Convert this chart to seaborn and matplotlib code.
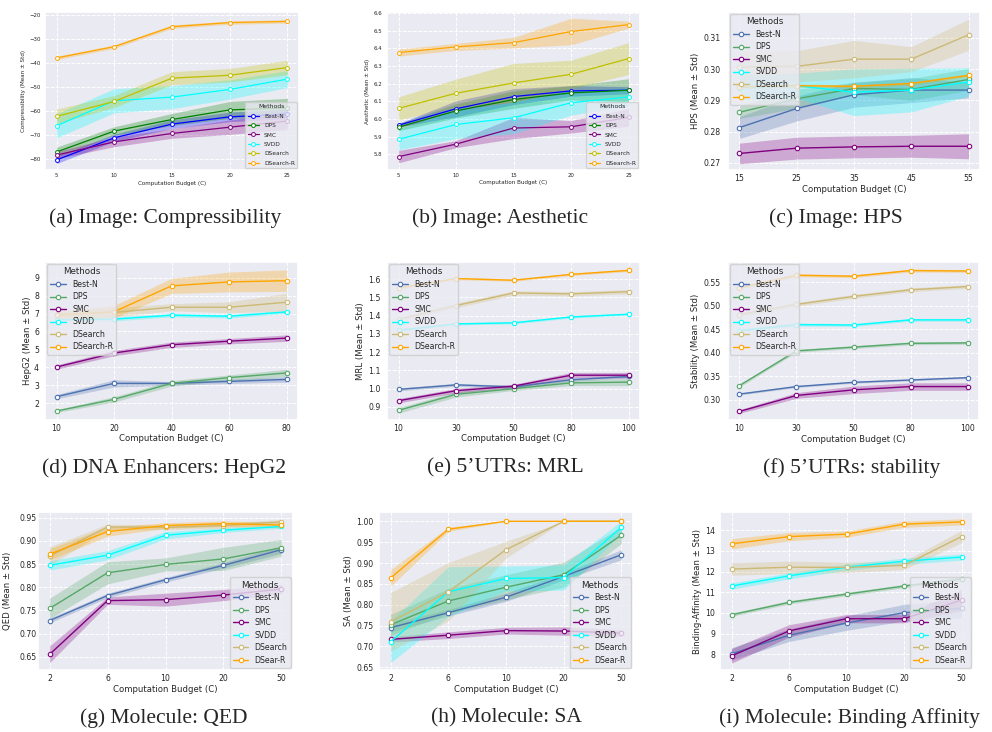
import numpy as np
import pandas as pd
import matplotlib
matplotlib.use("Agg")
import matplotlib.pyplot as plt
import seaborn as sns

# ---------------- data ----------------
METHODS = ["Best-N", "DPS", "SMC", "SVDD", "DSearch", "DSearch-R"]

# (a) Image: Compressibility
A_X = [5, 10, 15, 20, 25]
A_MEAN = {"Best-N": [-80.4, -71.2, -65.5, -62.5, -61.3],
          "DPS": [-77.1, -68.4, -63.6, -59.6, -58.8],
          "SMC": [-78.4, -72.9, -69.4, -66.8, -64.2],
          "SVDD": [-66.2, -55.8, -54.3, -51.1, -46.8],
          "DSearch": [-62.3, -56.1, -46.4, -45.2, -42.0],
          "DSearch-R": [-38.0, -33.3, -25.0, -23.3, -22.8]}
A_STD = {"Best-N": [1.5, 1.5, 1.8, 2.0, 2.0],
         "DPS": [2.0, 1.8, 2.5, 3.5, 4.0],
         "SMC": [1.5, 2.0, 2.0, 3.0, 3.5],
         "SVDD": [5.0, 5.0, 4.8, 4.0, 3.5],
         "DSearch": [3.0, 2.5, 2.7, 2.8, 3.0],
         "DSearch-R": [0.7, 0.7, 0.7, 0.7, 0.7]}

# (b) Image: Aesthetic
B_X = [5, 10, 15, 20, 25]
B_MEAN = {"Best-N": [5.965, 6.058, 6.127, 6.159, 6.163],
          "DPS": [5.954, 6.046, 6.110, 6.148, 6.163],
          "SMC": [5.787, 5.858, 5.949, 5.956, 6.009],
          "SVDD": [5.885, 5.969, 6.007, 6.092, 6.125],
          "DSearch": [6.060, 6.146, 6.204, 6.253, 6.342],
          "DSearch-R": [6.376, 6.408, 6.432, 6.495, 6.534]}
B_STD = {"Best-N": [0.01, 0.045, 0.045, 0.03, 0.02],
         "DPS": [0.02, 0.04, 0.05, 0.04, 0.065],
         "SMC": [0.035, 0.02, 0.06, 0.035, 0.05],
         "SVDD": [0.06, 0.08, 0.09, 0.07, 0.05],
         "DSearch": [0.065, 0.08, 0.11, 0.08, 0.09],
         "DSearch-R": [0.02, 0.02, 0.03, 0.075, 0.02]}

# (c) Image: HPS
C_X = [15, 25, 35, 45, 55]
C_MEAN = {"Best-N": [0.2813, 0.2874, 0.2918, 0.2933, 0.2933],
          "DPS": [0.2862, 0.2905, 0.2938, 0.2935, 0.2967],
          "SMC": [0.2730, 0.2747, 0.2751, 0.2753, 0.2753],
          "SVDD": [0.2941, 0.2947, 0.2926, 0.2933, 0.2959],
          "DSearch": [0.3007, 0.3009, 0.3032, 0.3032, 0.3110],
          "DSearch-R": [0.2943, 0.2947, 0.2945, 0.2954, 0.2980]}
C_STD = {"Best-N": [0.0035, 0.004, 0.004, 0.004, 0.0025],
         "DPS": [0.002, 0.003, 0.002, 0.0035, 0.0035],
         "SMC": [0.0033, 0.0035, 0.0035, 0.0035, 0.004],
         "SVDD": [0.004, 0.004, 0.0075, 0.007, 0.0045],
         "DSearch": [0.005, 0.005, 0.006, 0.004, 0.005],
         "DSearch-R": [0.0005, 0.0005, 0.0005, 0.0005, 0.0005]}

# (d) DNA Enhancers: HepG2
D_X = [10, 20, 40, 60, 80]
D_MEAN = {"Best-N": [2.37, 3.11, 3.11, 3.22, 3.33],
          "DPS": [1.57, 2.22, 3.11, 3.43, 3.69],
          "SMC": [4.02, 4.80, 5.26, 5.46, 5.63],
          "SVDD": [6.65, 6.69, 6.91, 6.85, 7.09],
          "DSearch": [6.95, 7.06, 7.35, 7.35, 7.63],
          "DSearch-R": [6.90, 7.10, 8.54, 8.76, 8.83]}
D_STD = {"Best-N": [0.12, 0.2, 0.1, 0.12, 0.15],
         "DPS": [0.08, 0.15, 0.15, 0.15, 0.2],
         "SMC": [0.12, 0.15, 0.15, 0.15, 0.18],
         "SVDD": [0.08, 0.1, 0.1, 0.1, 0.08],
         "DSearch": [0.2, 0.25, 0.2, 0.3, 0.5],
         "DSearch-R": [0.2, 0.35, 0.42, 0.55, 0.6]}

# (e) 5'UTRs: MRL
E_X = [10, 30, 50, 80, 100]
E_MEAN = {"Best-N": [0.995, 1.020, 1.009, 1.048, 1.066],
          "DPS": [0.880, 0.968, 0.999, 1.031, 1.035],
          "SMC": [0.933, 0.988, 1.013, 1.073, 1.073],
          "SVDD": [1.320, 1.355, 1.361, 1.393, 1.408],
          "DSearch": [1.380, 1.456, 1.525, 1.520, 1.532],
          "DSearch-R": [1.553, 1.604, 1.595, 1.627, 1.649]}
E_STD = {"Best-N": [0.008, 0.008, 0.008, 0.008, 0.008],
         "DPS": [0.015, 0.015, 0.01, 0.015, 0.02],
         "SMC": [0.012, 0.012, 0.01, 0.015, 0.015],
         "SVDD": [0.006, 0.006, 0.006, 0.006, 0.006],
         "DSearch": [0.008, 0.012, 0.012, 0.012, 0.012],
         "DSearch-R": [0.006, 0.006, 0.006, 0.006, 0.006]}

# (f) 5'UTRs: stability
F_X = [10, 30, 50, 80, 100]
F_MEAN = {"Best-N": [0.312, 0.328, 0.337, 0.342, 0.347],
          "DPS": [0.330, 0.404, 0.412, 0.420, 0.421],
          "SMC": [0.275, 0.309, 0.321, 0.328, 0.328],
          "SVDD": [0.447, 0.460, 0.459, 0.470, 0.470],
          "DSearch": [0.481, 0.503, 0.520, 0.534, 0.541],
          "DSearch-R": [0.538, 0.565, 0.563, 0.575, 0.574]}
F_STD = {"Best-N": [0.002, 0.002, 0.002, 0.002, 0.002],
         "DPS": [0.003, 0.003, 0.003, 0.003, 0.003],
         "SMC": [0.004, 0.006, 0.008, 0.008, 0.008],
         "SVDD": [0.003, 0.003, 0.003, 0.003, 0.003],
         "DSearch": [0.004, 0.004, 0.004, 0.004, 0.004],
         "DSearch-R": [0.003, 0.003, 0.003, 0.003, 0.003]}

# (g) Molecule: QED
G_X = [2, 6, 10, 20, 50]
G_MEAN = {"Best-N": [0.728, 0.782, 0.816, 0.847, 0.881],
          "DPS": [0.754, 0.831, 0.849, 0.861, 0.885],
          "SMC": [0.655, 0.771, 0.773, 0.783, 0.796],
          "SVDD": [0.847, 0.869, 0.912, 0.923, 0.931],
          "DSearch": [0.867, 0.930, 0.929, 0.933, 0.941],
          "DSearch-R": [0.871, 0.920, 0.933, 0.937, 0.934]}
G_STD = {"Best-N": [0.005, 0.005, 0.005, 0.006, 0.008],
         "DPS": [0.022, 0.024, 0.014, 0.025, 0.018],
         "SMC": [0.018, 0.008, 0.014, 0.012, 0.01],
         "SVDD": [0.01, 0.01, 0.008, 0.005, 0.004],
         "DSearch": [0.02, 0.006, 0.005, 0.006, 0.005],
         "DSearch-R": [0.012, 0.01, 0.006, 0.006, 0.006]}

# (h) Molecule: SA
H_X = [2, 6, 10, 20, 50]
H_MEAN = {"Best-N": [0.745, 0.781, 0.818, 0.868, 0.920],
          "DPS": [0.752, 0.809, 0.842, 0.872, 0.967],
          "SMC": [0.717, 0.727, 0.738, 0.737, 0.732],
          "SVDD": [0.711, 0.831, 0.863, 0.865, 0.986],
          "DSearch": [0.759, 0.831, 0.932, 1.0, 1.0],
          "DSearch-R": [0.864, 0.981, 1.0, 1.0, 1.0]}
H_STD = {"Best-N": [0.01, 0.008, 0.01, 0.008, 0.012],
         "DPS": [0.025, 0.03, 0.03, 0.03, 0.02],
         "SMC": [0.006, 0.008, 0.008, 0.01, 0.008],
         "SVDD": [0.05, 0.06, 0.03, 0.03, 0.015],
         "DSearch": [0.07, 0.07, 0.02, 0.0, 0.0],
         "DSearch-R": [0.02, 0.005, 0.0, 0.0, 0.0]}

# (i) Molecule: Binding Affinity
I_X = [2, 6, 10, 20, 50]
I_MEAN = {"Best-N": [8.02, 8.92, 9.51, 10.01, 10.22],
          "DPS": [9.91, 10.51, 10.91, 11.30, 11.64],
          "SMC": [7.92, 9.13, 9.72, 9.72, 10.62],
          "SVDD": [11.30, 11.79, 12.21, 12.50, 12.70],
          "DSearch": [12.12, 12.21, 12.20, 12.30, 13.69],
          "DSearch-R": [13.34, 13.69, 13.81, 14.29, 14.40]}
I_STD = {"Best-N": [0.3, 0.3, 0.35, 0.4, 0.45],
         "DPS": [0.08, 0.08, 0.08, 0.08, 0.08],
         "SMC": [0.35, 0.3, 0.2, 0.2, 0.5],
         "SVDD": [0.15, 0.15, 0.15, 0.15, 0.15],
         "DSearch": [0.3, 0.3, 0.25, 0.2, 0.3],
         "DSearch-R": [0.25, 0.2, 0.15, 0.15, 0.15]}

NAMES_STD = ["Best-N", "DPS", "SMC", "SVDD", "DSearch", "DSearch-R"]
NAMES_MOL = ["Best-N", "DPS", "SMC", "SVDD", "DSearch", "DSear-R"]

COL_PURE = {"Best-N": "blue", "DPS": "green", "SMC": "purple", "SVDD": "cyan",
            "DSearch": "#BFBF00", "DSearch-R": "orange"}
COL_DEEP = {"Best-N": "#4C72B0", "DPS": "#55A868", "SMC": "purple", "SVDD": "cyan",
            "DSearch": "#CCB974", "DSearch-R": "orange"}

# ---------------- figure ----------------
sns.set_theme(style="darkgrid")
plt.rcParams["font.family"] = ["DejaVu Sans"]

W, H = 992, 732
fig = plt.figure(figsize=(W / 100, H / 100), dpi=100)


def px_axes(l, t, r, b):
    return fig.add_axes([l / W, 1 - b / H, (r - l) / W, (b - t) / H])


def panel(rect, xs, means, stds, colors, names, ylabel, ylim, legloc,
          ypad, ylab_cx, xlab_cy, small=False, numeric_x=False):
    l, t, r, b = rect
    ax = px_axes(l, t, r, b)
    rows = []
    for m in METHODS:
        for i, x in enumerate(xs):
            rows.append({"method": m, "pos": (x if numeric_x else i),
                         "mean": means[m][i], "std": stds[m][i]})
    df = pd.DataFrame(rows)
    if small:
        fs_tick, fs_lab, fs_leg, fs_tit, lw, ms, mew, lsp = 3.9, 4.1, 4.2, 4.4, 0.9, 2.8, 0.7, 0.75
    else:
        fs_tick, fs_lab, fs_leg, fs_tit, lw, ms, mew, lsp = 5.6, 6.1, 5.6, 6.3, 1.0, 3.2, 0.8, 0.45
    for m in METHODS:
        sub = df[df["method"] == m]
        ax.fill_between(sub["pos"], sub["mean"] - sub["std"], sub["mean"] + sub["std"],
                        color=colors[m], alpha=0.28, linewidth=0)
    for m, name in zip(METHODS, names):
        sub = df[df["method"] == m]
        sns.lineplot(data=sub, x="pos", y="mean", ax=ax, color=colors[m], linewidth=lw,
                     marker="o", markersize=ms, markerfacecolor="white",
                     markeredgecolor=colors[m], markeredgewidth=mew, label=name)
    if numeric_x:
        ax.set_xticks(xs)
        ax.set_xticklabels([str(x) for x in xs])
        span = xs[-1] - xs[0]
        ax.set_xlim(xs[0] - 0.05 * span, xs[-1] + 0.05 * span)
    else:
        ax.set_xticks(range(len(xs)))
        ax.set_xticklabels([str(x) for x in xs])
        ax.set_xlim(-0.2, len(xs) - 0.8)
    ax.set_ylim(*ylim)
    ax.set_xlabel("Computation Budget (C)", fontsize=fs_lab)
    ax.set_ylabel(ylabel, fontsize=fs_lab)
    ax.tick_params(axis="x", labelsize=fs_tick, pad=2.0 if small else 3.0, length=0)
    ax.tick_params(axis="y", labelsize=fs_tick, pad=ypad, length=0)
    half = fs_lab * 100 / 72 * 0.6
    ax.yaxis.set_label_coords((ylab_cx + half - l) / (r - l), 0.5)
    ax.xaxis.set_label_coords(0.5, (b - (xlab_cy - half)) / (b - t))
    ax.grid(True, color="white", linestyle="--", linewidth=0.7)
    ax.legend(title="Methods", loc=legloc, fontsize=fs_leg, title_fontsize=fs_tit,
              borderaxespad=0.3, handlelength=2.0, labelspacing=lsp)
    return ax


panel((45, 12, 299, 170), A_X, A_MEAN, A_STD, COL_PURE, NAMES_STD,
      "Compressibility (Mean ± Std)", (-84.6, -18.9), "lower right",
      3.0, 23, 184, small=True, numeric_x=True)
panel((387, 12, 640, 170), B_X, B_MEAN, B_STD, COL_PURE, NAMES_STD,
      "Aesthetic (Mean ± Std)", (5.7115, 6.6056), "lower right",
      3.6, 367, 183, small=True, numeric_x=True)
panel((728, 12, 980, 170), C_X, C_MEAN, C_STD, COL_DEEP, NAMES_STD,
      "HPS (Mean ± Std)", (0.2677, 0.3183), "upper left",
      5.5, 695, 190, numeric_x=True)
panel((45, 262, 298, 420), D_X, D_MEAN, D_STD, COL_DEEP, NAMES_STD,
      "HepG2 (Mean ± Std)", (1.07, 9.87), "upper left",
      4.3, 27, 439)
panel((387, 262, 640, 420), E_X, E_MEAN, E_STD, COL_DEEP, NAMES_STD,
      "MRL (Mean ± Std)", (0.827, 1.695), "upper left",
      4.8, 360, 439)
panel((728, 262, 979, 420), F_X, F_MEAN, F_STD, COL_DEEP, NAMES_STD,
      "Stability (Mean ± Std)", (0.2568, 0.5932), "upper left",
      5.2, 695, 440)
panel((38, 512, 293, 670), G_X, G_MEAN, G_STD, COL_DEEP, NAMES_MOL,
      "QED (Mean ± Std)", (0.6213, 0.9622), "lower right",
      1.2, 7, 690)
panel((379, 512, 633, 670), H_X, H_MEAN, H_STD, COL_DEEP, NAMES_MOL,
      "SA (Mean ± Std)", (0.6436, 1.0223), "lower right",
      4.0, 348, 690)
panel((720, 512, 973, 670), I_X, I_MEAN, I_STD, COL_DEEP, NAMES_MOL,
      "Binding-Affinity (Mean ± Std)", (7.24, 14.88), "lower right",
      3.6, 697, 690)

CAPTIONS = [("(a) Image: Compressibility", 165, 218),
            ("(b) Image: Aesthetic", 500, 218),
            ("(c) Image: HPS", 836, 218),
            ("(d) DNA Enhancers: HepG2", 164, 468),
            ("(e) 5\u2019UTRs: MRL", 505, 468),
            ("(f) 5\u2019UTRs: stability", 852, 468),
            ("(g) Molecule: QED", 164, 718),
            ("(h) Molecule: SA", 506, 718),
            ("(i) Molecule: Binding Affinity", 849, 718)]
for txt, cx, cy in CAPTIONS:
    fig.text(cx / W, 1 - cy / H, txt, ha="center", va="center",
             fontsize=15.5, family=["Liberation Serif", "DejaVu Serif"])

fig.savefig("out.png", dpi=100, facecolor="white")
